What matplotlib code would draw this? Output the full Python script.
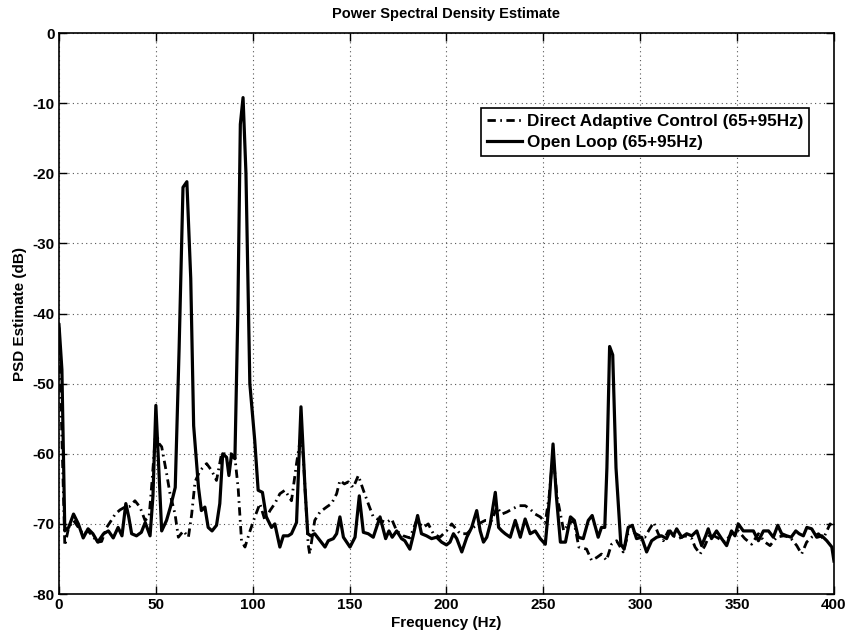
import matplotlib
matplotlib.use("Agg")
import matplotlib.pyplot as plt

plt.rcParams['font.family'] = ['Liberation Sans', 'DejaVu Sans']
plt.rcParams['font.weight'] = 'bold'

title = "Power Spectral Density Estimate"
xlabel = "Frequency (Hz)"
ylabel = "PSD Estimate (dB)"
label_dac = "Direct Adaptive Control (65+95Hz)"
label_ol = "Open Loop (65+95Hz)"
xticks = [0, 50, 100, 150, 200, 250, 300, 350, 400]
yticks = [-80, -70, -60, -50, -40, -30, -20, -10, 0]

# Open loop (solid)
freq_ol = [0, 1.5, 3, 5, 7.5, 10, 12.5, 15, 17.5, 20, 23, 25.5, 28, 30.5, 32.5, 34.5, 36, 37.5, 40,
           42.5, 44.5, 47, 48.5, 50, 51.5, 53, 55.5, 57.5, 60, 62, 64, 66, 68, 69.5, 72, 73.5, 75.3,
           77, 79, 81.3, 83, 84.5, 86.5, 87.7, 89, 90.8, 92.3, 93.6, 95, 96.5, 98.5, 101, 102.8,
           105, 107, 109.7, 111.4, 114, 115.8, 118.3, 120, 122.6, 124.9, 127, 128.4, 130, 132,
           134.5, 137.3, 139, 141.6, 143.3, 145, 146.8, 148.5, 150.2, 152.8, 155, 157.1, 159.6,
           162.2, 165.7, 168.6, 170.3, 172, 174.3, 176.8, 178.5, 181.1, 182.8, 185.1, 187.1,
           189.7, 192.3, 194.9, 197.5, 200, 201.8, 203.6, 205.3, 207.9, 210.5, 213, 215.6, 217.4,
           219.1, 220.8, 222.6, 225.2, 226.9, 228.6, 230.3, 232.9, 235.5, 238.1, 240.6, 243.2,
           245.8, 248.4, 251, 253.2, 255, 256.7, 258.8, 261.4, 264, 266, 268, 270.6, 273.2, 275.2,
           278.3, 280, 281.7, 282.8, 284.2, 285.8, 287.5, 290, 291.7, 293.8, 295.9, 298.1, 300.7,
           303.3, 305.9, 308.5, 311, 313.6, 315.4, 317.1, 318.8, 321.4, 324, 326.6, 329.2, 331.7,
           333.8, 335.1, 336.8, 339.4, 342, 344.6, 347.1, 348.9, 350.6, 353.2, 355.8, 358.4, 361,
           363.6, 366.2, 368.7, 371, 373, 375.6, 377.9, 380.3, 382, 384.2, 386, 388.5, 391.1,
           393.7, 396.3, 398.9, 400]
psd_ol = [-41.6, -48, -71, -70.5, -68.6, -70, -72, -70.7, -71.4, -72.6, -71.4, -71, -72, -70.5, -71.7,
          -67.1, -69, -71.4, -71.7, -71.2, -69.8, -71.7, -66, -53.1, -62, -71, -69.5, -67.6, -64.8,
          -45, -22, -21.2, -35, -56, -64.8, -68.1, -67.6, -70.5, -71, -70.2, -67.1, -60, -60.5,
          -63.1, -60.2, -60.7, -40, -13, -9.2, -20, -50, -58, -65.2, -65.5, -69, -70.5, -70, -73.3,
          -71.7, -71.7, -71.4, -69.8, -53.3, -65, -71.4, -71.7, -71.4, -72.3, -73.3, -72.4, -72.1,
          -71.4, -69, -71.9, -72.6, -73.3, -71.9, -66, -71.2, -71.4, -71.9, -69, -72.1, -71, -71.9,
          -71, -72.1, -72.4, -73.6, -71.7, -68.8, -71.4, -71.7, -72.1, -71.9, -72.6, -73, -72.6,
          -71.4, -72.1, -74, -71.9, -70.5, -68.1, -71, -72.6, -71.9, -70, -65.5, -70.5, -71, -71.4,
          -71.9, -69.5, -71.9, -69.3, -71.4, -71, -72.1, -72.9, -66.2, -58.6, -66, -72.6, -72.6,
          -69, -69.5, -71.9, -72.1, -69.5, -68.8, -71.9, -70.5, -70.5, -62, -44.7, -45.9, -62,
          -72.9, -73.6, -70.5, -70.2, -72.1, -71.9, -74, -72.4, -71.9, -71.7, -72.1, -71, -71.7,
          -70.7, -71.9, -71.4, -71.7, -71, -73.1, -71.7, -70.7, -72.1, -71, -72.1, -73.1, -71,
          -71.7, -70, -71, -71, -71, -72.4, -71, -71, -71.9, -70.2, -71.4, -71.7, -71.9, -71,
          -71.4, -71.7, -70.5, -70.7, -71.9, -71.7, -72.4, -73.3, -75.3]

# Direct adaptive control (dash-dot)
freq_dac = [0, 3, 5, 7.5, 10, 12.5, 15, 17.5, 20, 22, 24.6, 27, 29, 31.5, 34, 36.5, 39.2, 41.8, 44.4,
            46.5, 48, 50, 51.5, 53, 55.6, 57.3, 59.9, 61.6, 64.2, 66.8, 68.5, 70.2, 72.8, 76.2,
            78.8, 81.3, 83.9, 86.5, 89, 90.8, 92.5, 94.2, 96, 98.6, 101.1, 103.7, 106.3, 108.9,
            111.4, 114, 116.6, 120, 122.6, 124.5, 126, 128.6, 129.4, 132, 134.7, 138.1, 140.7,
            143.3, 145, 147.3, 149.3, 151.9, 154.5, 157.1, 159.6, 162.2, 165.7, 169.1, 171.7,
            174.3, 177.7, 181.1, 184.6, 188, 190.6, 193.2, 196.6, 200, 202.7, 207, 210.5, 213.9,
            216.5, 220, 223.4, 226, 228.6, 231.2, 233.8, 237.3, 240.6, 243.2, 245.8, 248.4, 251,
            253, 255, 257, 260.5, 263.1, 265.7, 268.3, 272.3, 274.9, 277.5, 280, 282.6, 285.2,
            287.8, 291.2, 293.8, 296.4, 299.8, 302.4, 304.9, 307, 309.3, 311.9, 314.5, 317.1,
            319.7, 323.1, 326.6, 328.3, 330.9, 333.4, 336, 339.4, 343.7, 347.1, 350.6, 354, 357.5,
            361, 364.4, 367, 370.4, 373.9, 377.3, 380.8, 383.3, 385.9, 388.5, 392, 394.5, 398,
            400]
psd_dac = [-42, -73.1, -70.5, -69.5, -70.5, -71.5, -71, -71.8, -72.6, -72.5, -70.5, -69.5, -68.6, -68,
           -67.6, -67.5, -66.7, -67.6, -69.5, -69, -64, -56.5, -58.5, -59, -62.9, -65.7, -68.6,
           -71.9, -71, -71.9, -68.6, -64, -62.4, -61.4, -62.4, -63.8, -60, -60, -60, -60.5, -65,
           -72.4, -73.3, -71, -69, -67.1, -69.5, -68.1, -67.1, -65.7, -65.2, -66.7, -61.4, -58,
           -60, -72.9, -74.3, -69.5, -68.3, -67.6, -67.1, -65.7, -63.8, -64.3, -64, -64.8, -63.1,
           -65.2, -67.1, -69, -69.5, -69.8, -69.3, -71, -71.7, -72, -69.5, -70.5, -70, -71.4,
           -71.9, -71, -70, -71.4, -71.4, -70.5, -70, -69.5, -69.5, -67.6, -68.6, -68.3, -67.9,
           -67.4, -67.4, -67.9, -68.6, -69, -69.8, -66, -60, -66, -71, -70, -69.5, -73.3, -73.6,
           -75.2, -74.8, -74.3, -75.2, -72.9, -72.4, -74, -71.4, -71.2, -71.7, -71.9, -70.7,
           -69.8, -71.4, -72.4, -71, -71.7, -72.1, -71.7, -72.1, -73.3, -74.3, -73.1, -71.4,
           -71.9, -72.6, -71.4, -71, -72.1, -72.9, -71.4, -72.6, -73.1, -71.9, -71.7, -71.9,
           -73.1, -74.3, -72.6, -71.9, -71.4, -72.1, -70, -70.5]

fig = plt.figure(figsize=(8.55, 6.36), dpi=100)
ax = fig.add_axes([0.069, 0.066, 0.9064, 0.882])

ax.plot(freq_dac, psd_dac, color='black', lw=2.0, linestyle=(0, (3, 1.6, 0.6, 1.6)),
        label=label_dac)
ax.plot(freq_ol, psd_ol, color='black', lw=2.3, linestyle='-', label=label_ol)

ax.set_xlim(0, 400)
ax.set_ylim(-80, 0)
ax.set_xticks(xticks)
ax.set_yticks(yticks)
ax.set_xticklabels([str(t) for t in xticks], fontsize=11, fontweight='bold')
ax.set_yticklabels([str(t) for t in yticks], fontsize=11, fontweight='bold')
ax.tick_params(direction='in', length=6, width=1, top=True, right=True, pad=3)
ax.grid(True, linestyle=(0, (1, 3)), color='#555555', linewidth=0.8)
for s in ax.spines.values():
    s.set_linewidth(1.2)

ax.set_title(title, fontsize=10.5, fontweight='bold', pad=11)
ax.set_xlabel(xlabel, fontsize=11, fontweight='bold', labelpad=3)
ax.set_ylabel(ylabel, fontsize=11, fontweight='bold', labelpad=4)

leg = ax.legend(loc='upper left', bbox_to_anchor=(0.545, 0.866), fancybox=False,
                framealpha=1, edgecolor='black', prop={'size': 12.3, 'weight': 'bold'},
                handlelength=2.0, handletextpad=0.3, borderpad=0.35, labelspacing=0.35,
                borderaxespad=0)
leg.get_frame().set_linewidth(1.2)

fig.savefig("out.png", dpi=100)
